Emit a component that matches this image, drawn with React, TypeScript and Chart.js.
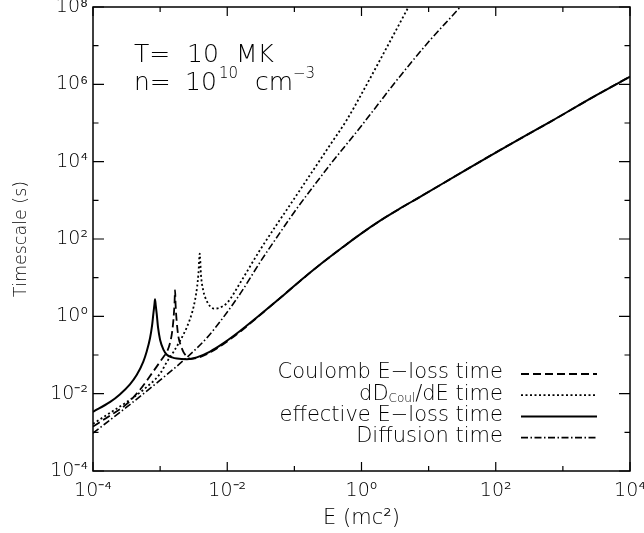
import React, { useEffect, useRef } from "react";
import { Chart, registerables } from "chart.js";

Chart.register(...registerables);

// ---- Data: energy E (mc^2) and timescale (s) ----
const coulombE = [1.0e-4, 1.78e-4, 3.16e-4, 5.01e-4, 7.94e-4, 1.12e-3, 1.26e-3, 1.41e-3, 1.51e-3, 1.58e-3, 1.64e-3, 1.67e-3, 1.70e-3, 1.76e-3, 1.86e-3, 2.0e-3, 2.24e-3, 2.51e-3, 2.82e-3, 3.51e-3, 5.55e-3, 8.71e-3, 1.55e-2, 2.75e-2, 4.9e-2, 8.71e-2, 0.158, 0.242, 0.5, 0.953, 2.0, 3.76, 7.46, 31.6, 116, 646, 3160, 1.0e4];
const coulombT = [1.41e-3, 2.69e-3, 5.37e-3, 1.26e-2, 3.8e-2, 8.91e-2, 0.120, 0.209, 0.398, 0.832, 2.24, 4.79, 2.0, 0.794, 0.316, 0.191, 0.117, 0.0912, 0.0794, 0.0832, 0.117, 0.191, 0.398, 0.912, 2.14, 5.0, 12.0, 21.9, 57.5, 132, 316, 617, 1230, 5370, 2.0e4, 1.07e5, 5.25e5, 1.58e6];

const dDdE_E = [1.0e-4, 1.78e-4, 3.16e-4, 5.62e-4, 1.0e-3, 1.26e-3, 1.58e-3, 2.0e-3, 2.51e-3, 3.02e-3, 3.31e-3, 3.55e-3, 3.72e-3, 3.89e-3, 4.07e-3, 4.37e-3, 5.01e-3, 5.62e-3, 6.31e-3, 7.59e-3, 1.0e-2, 1.55e-2, 3.09e-2, 0.10, 0.316, 0.603, 1.0, 1.89, 5.01, 6.31];
const dDdE_T = [1.66e-3, 3.16e-3, 6.03e-3, 1.26e-2, 3.31e-2, 6.61e-2, 0.120, 0.240, 0.531, 1.32, 2.63, 5.62, 12.6, 41.7, 11.2, 4.79, 2.40, 1.78, 1.58, 1.66, 2.24, 7.24, 52.5, 1120, 2.24e4, 1.2e5, 5.62e5, 4.27e6, 1.0e8, 2.09e8];

const effectiveE = [1.0e-4, 1.78e-4, 2.51e-4, 3.55e-4, 4.47e-4, 5.62e-4, 6.31e-4, 7.08e-4, 7.59e-4, 7.94e-4, 8.22e-4, 8.39e-4, 8.61e-4, 8.91e-4, 9.33e-4, 1.0e-3, 1.12e-3, 1.26e-3, 1.51e-3, 1.78e-3, 2.51e-3, 3.51e-3, 5.55e-3, 8.71e-3, 1.55e-2, 2.75e-2, 4.9e-2, 8.71e-2, 0.158, 0.242, 0.5, 0.953, 2.0, 3.76, 7.46, 31.6, 116, 646, 3160, 1.0e4];
const effectiveT = [3.39e-3, 6.03e-3, 9.55e-3, 1.74e-2, 3.02e-2, 6.76e-2, 0.123, 0.275, 0.58, 1.20, 2.0, 2.75, 1.9, 1.12, 0.50, 0.245, 0.138, 0.102, 0.087, 0.081, 0.078, 0.087, 0.123, 0.20, 0.417, 0.933, 2.14, 5.0, 12.0, 21.9, 57.5, 132, 316, 617, 1230, 5370, 2.0e4, 1.07e5, 5.25e5, 1.58e6];

const diffusionE = [1e-4, 3.16e-4, 1e-3, 2.51e-3, 5.01e-3, 8.71e-3, 1.58e-2, 3.16e-2, 5.13e-2, 0.1, 0.316, 1.0, 1.89, 3.16, 10, 29.5, 39.8];
const diffusionT = [9.55e-4, 4.47e-3, 2.24e-2, 8.71e-2, 0.282, 0.933, 3.98, 26.9, 93.3, 501, 7080, 8.51e4, 3.55e5, 1.12e6, 1.26e7, 1.0e8, 1.86e8];

// ---- Axes ----
const xMajor = [1e-4, 1e-2, 1, 1e2, 1e4];
const xMinor = [1e-3, 1e-1, 1e1, 1e3];
const yMajor = [1e-4, 1e-2, 1, 1e2, 1e4, 1e6, 1e8];
const yMinor = [1e-3, 1e-1, 1e1, 1e3, 1e5, 1e7];
const xTickLabels = ["10\u207B\u2074", "10\u207B\u00B2", "10\u2070", "10\u00B2", "10\u2074"];
const yTickLabels = ["10\u207B\u2074", "10\u207B\u00B2", "10\u2070", "10\u00B2", "10\u2074", "10\u2076", "10\u2078"];
const xTitle = "E (mc\u00B2)";
const yTitle = "Timescale (s)";

// ---- Legend / annotation text ----
const legendLabels: [string, boolean][][] = [
  [["Coulomb E\u2212loss time", false]],
  [["dD", false], ["Coul", true], ["/dE time", false]],
  [["effective E\u2212loss time", false]],
  [["Diffusion time", false]],
];
const tempLabel = ["T=", "10", "MK"];
const densLabel = ["n=", "10", "10", "cm", "\u22123"];

const FAMILY = "'DejaVu Sans', 'Liberation Sans', sans-serif";
const WEIGHT = "200";

const DASHED = [8, 4];
const DOTTED = [2, 2.5];
const DASHDOT = [7, 2.5, 1.5, 2.5];
const styles = [
  { dash: DASHED, width: 1.8 },
  { dash: DOTTED, width: 1.8 },
  { dash: [] as number[], width: 2 },
  { dash: DASHDOT, width: 1.6 },
];

const toPts = (xs: number[], ys: number[]) => xs.map((x, i) => ({ x, y: ys[i] }));

const framePlugin = {
  id: "frame",
  afterDraw(chart: any) {
    const { ctx, chartArea: a, scales } = chart;
    const xs = scales.x;
    const ys = scales.y;
    ctx.save();
    ctx.strokeStyle = "#000";
    ctx.fillStyle = "#000";
    ctx.setLineDash([]);
    ctx.lineWidth = 1.5;
    ctx.strokeRect(a.left, a.top, a.right - a.left, a.bottom - a.top);

    ctx.lineWidth = 1.2;
    ctx.beginPath();
    const xt = (v: number, len: number) => {
      const x = xs.getPixelForValue(v);
      ctx.moveTo(x, a.bottom);
      ctx.lineTo(x, a.bottom - len);
      ctx.moveTo(x, a.top);
      ctx.lineTo(x, a.top + len);
    };
    const yt = (v: number, len: number) => {
      const y = ys.getPixelForValue(v);
      ctx.moveTo(a.left, y);
      ctx.lineTo(a.left + len, y);
      ctx.moveTo(a.right, y);
      ctx.lineTo(a.right - len, y);
    };
    xMajor.forEach((v) => xt(v, 9));
    xMinor.forEach((v) => xt(v, 5));
    yMajor.forEach((v) => yt(v, 11));
    yMinor.forEach((v) => yt(v, 5.5));
    ctx.stroke();

    // Legend
    const big = `${WEIGHT} 21px ${FAMILY}`;
    const small = `${WEIGHT} 12px ${FAMILY}`;
    const textRight = a.left + 410;
    const lineX0 = a.left + 428;
    const lineX1 = a.left + 504;
    legendLabels.forEach((parts, i) => {
      const y = a.top + 366 + i * 21.2;
      let total = 0;
      parts.forEach(([t, sub]) => {
        ctx.font = sub ? small : big;
        total += ctx.measureText(t).width;
      });
      let x = textRight - total;
      ctx.textBaseline = "middle";
      ctx.textAlign = "left";
      parts.forEach(([t, sub]) => {
        ctx.font = sub ? small : big;
        ctx.fillText(t, x, sub ? y + 5 : y);
        x += ctx.measureText(t).width;
      });
      const st = styles[i];
      ctx.setLineDash(st.dash);
      ctx.lineWidth = st.width;
      ctx.beginPath();
      ctx.moveTo(lineX0, y + 1);
      ctx.lineTo(lineX1, y + 1);
      ctx.stroke();
    });
    ctx.setLineDash([]);

    // Annotation
    const ann = `${WEIGHT} 25px ${FAMILY}`;
    const annSup = `${WEIGHT} 15px ${FAMILY}`;
    ctx.textBaseline = "alphabetic";
    ctx.textAlign = "left";
    const b1 = a.top + 55;
    const b2 = a.top + 83;
    ctx.font = ann;
    ctx.fillText(tempLabel[0], a.left + 41, b1);
    ctx.fillText(tempLabel[1], a.left + 94, b1);
    ctx.fillText(tempLabel[2], a.left + 143, b1);
    ctx.fillText(densLabel[0], a.left + 41, b2);
    ctx.fillText(densLabel[1], a.left + 92, b2);
    ctx.fillText(densLabel[3], a.left + 162, b2);
    ctx.font = annSup;
    ctx.fillText(densLabel[2], a.left + 126, b2 - 12);
    ctx.fillText(densLabel[4], a.left + 200, b2 - 12);
    ctx.restore();
  },
};

export default function App() {
  const ref = useRef<HTMLCanvasElement>(null);
  useEffect(() => {
    const canvas = ref.current;
    if (!canvas) return;
    const tickFont = { family: FAMILY, size: 19, weight: WEIGHT as any };
    const mk = (label: string, xs: number[], ys: number[], i: number) => ({
      label,
      data: toPts(xs, ys),
      borderColor: "#000",
      backgroundColor: "#000",
      borderWidth: styles[i].width,
      borderDash: styles[i].dash,
      pointRadius: 0,
      fill: false,
      cubicInterpolationMode: "monotone" as const,
    });
    const chart = new Chart(canvas, {
      type: "line",
      data: {
        datasets: [
          mk("Coulomb E-loss time", coulombE, coulombT, 0),
          mk("dD/dE time", dDdE_E, dDdE_T, 1),
          mk("effective E-loss time", effectiveE, effectiveT, 2),
          mk("Diffusion time", diffusionE, diffusionT, 3),
        ],
      },
      options: {
        animation: false,
        responsive: false,
        maintainAspectRatio: false,
        devicePixelRatio: 1,
        layout: { padding: { top: 7, right: 14, left: 0, bottom: 0 } },
        plugins: { legend: { display: false }, tooltip: { enabled: false } },
        scales: {
          x: {
            type: "logarithmic",
            min: 1e-4,
            max: 1e4,
            grid: { display: false, drawTicks: false },
            border: { display: false },
            ticks: {
              autoSkip: false,
              maxRotation: 0,
              minRotation: 0,
              padding: 9,
              color: "#000",
              font: tickFont,
              callback: (_v: any, i: number) => xTickLabels[i],
            },
            title: {
              display: true,
              text: xTitle,
              color: "#000",
              font: { family: FAMILY, size: 21, weight: WEIGHT as any },
              padding: { top: 0, bottom: 2 },
            },
            afterBuildTicks: (s: any) => {
              s.ticks = xMajor.map((v) => ({ value: v }));
            },
            afterFit: (s: any) => {
              s.height = 62;
              s.paddingLeft = 0;
              s.paddingRight = 0;
            },
          },
          y: {
            type: "logarithmic",
            min: 1e-4,
            max: 1e8,
            grid: { display: false, drawTicks: false },
            border: { display: false },
            ticks: {
              autoSkip: false,
              padding: 5,
              color: "#000",
              font: tickFont,
              callback: (_v: any, i: number) => yTickLabels[i],
            },
            title: {
              display: true,
              text: yTitle,
              color: "#000",
              font: { family: FAMILY, size: 17.5, weight: WEIGHT as any },
              padding: { top: 11, bottom: 0 },
            },
            afterBuildTicks: (s: any) => {
              s.ticks = yMajor.map((v) => ({ value: v }));
            },
            afterFit: (s: any) => {
              s.width = 93;
              s.paddingTop = 0;
              s.paddingBottom = 0;
            },
          },
        },
      } as any,
      plugins: [framePlugin],
    });
    return () => chart.destroy();
  }, []);
  return (
    <div style={{ position: "absolute", left: 0, top: 0, width: 644, height: 533, background: "#fff" }}>
      <canvas ref={ref} width={644} height={533} style={{ display: "block" }} />
    </div>
  );
}
